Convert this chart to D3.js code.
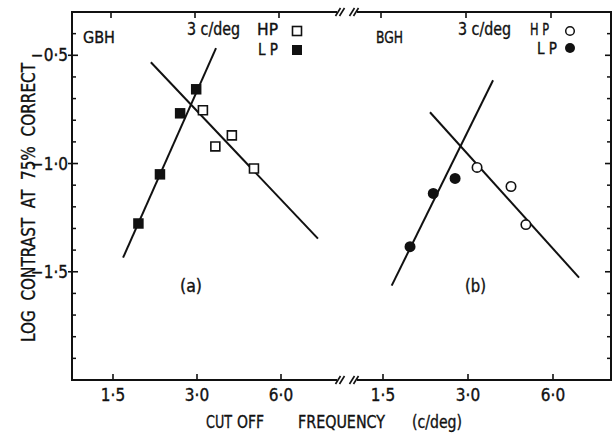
<!DOCTYPE html>
<html><head><meta charset="utf-8">
<script src="https://cdn.jsdelivr.net/npm/d3@7"></script>
<style>
html,body{margin:0;padding:0;background:#fff;}
svg{display:block;}
text{font-family:"DejaVu Sans Condensed","Liberation Sans Narrow","DejaVu Sans",sans-serif;fill:#111;stroke:#111;stroke-width:0.35;}
</style></head>
<body>
<script>
// ---- data ----
const xTicks = [1.5, 3, 6];
const xTickLabels = ["1·5", "3·0", "6·0"];
const yMajorTicks = [-0.5, -1.0, -1.5];
const yMajorLabels = ["−0·5", "−1·0", "−1·5"];
const yMinorTicks = [-1.9,-1.8,-1.7,-1.6,-1.4,-1.3,-1.2,-1.1,-0.9,-0.8,-0.7,-0.6,-0.4];

const gbhLPx = [1.85, 2.21, 2.61, 2.98];
const gbhLPy = [-1.277, -1.05, -0.768, -0.657];
const gbhHPx = [3.15, 3.49, 4.00, 4.80];
const gbhHPy = [-0.754, -0.921, -0.870, -1.023];
const bghLPx = [1.87, 2.26, 2.70];
const bghLPy = [-1.384, -1.138, -1.069];
const bghHPx = [3.23, 4.26, 4.81];
const bghHPy = [-1.018, -1.106, -1.282];

const gbhLPfitX = [1.63, 3.51], gbhLPfitY = [-1.435, -0.467];
const gbhHPfitX = [2.05, 8.14], gbhHPfitY = [-0.532, -1.347];
const bghLPfitX = [1.61, 3.68], bghLPfitY = [-1.564, -0.615];
const bghHPfitX = [2.20, 7.42], bghHPfitY = [-0.763, -1.527];

// ---- layout ----
const W = 613, H = 433;
const pLeft = 72, pRight = 611, pTop = 12, pBottom = 380;
const breakL = 337, breakR = 357;

const svg = d3.select("body").append("svg").attr("width", W).attr("height", H);

const y = d3.scaleLinear().domain([-2.0, -0.3]).range([pBottom, pTop]);
const xA = d3.scaleLog().domain([1.5, 6]).range([113, 281]);
const xB = d3.scaleLog().domain([1.5, 6]).range([383, 553]);

const ink = "#111";
// frame
const frame = svg.append("g").attr("stroke", ink).attr("stroke-width", 2).attr("fill", "none");
frame.append("line").attr("x1", pLeft).attr("x2", pLeft).attr("y1", pTop - 1).attr("y2", pBottom + 1);
frame.append("line").attr("x1", pRight).attr("x2", pRight).attr("y1", pTop - 1).attr("y2", pBottom + 1);
[pTop, pBottom].forEach(yy => {
  frame.append("line").attr("x1", pLeft).attr("x2", breakL).attr("y1", yy).attr("y2", yy);
  frame.append("line").attr("x1", breakR).attr("x2", pRight).attr("y1", yy).attr("y2", yy);
  [breakL + 1, breakL + 5, breakR - 5, breakR - 1].forEach(bx => {
    svg.append("line").attr("x1", bx - 2.5).attr("x2", bx + 2.5)
      .attr("y1", yy + 4).attr("y2", yy - 4)
      .attr("stroke", ink).attr("stroke-width", 1.6);
  });
});

// left y axis
const yAxisL = svg.append("g");
yMajorTicks.forEach((v, i) => {
  yAxisL.append("line").attr("x1", pLeft - 4).attr("x2", pLeft + 6)
    .attr("y1", y(v)).attr("y2", y(v)).attr("stroke", ink).attr("stroke-width", 1.6);
  yAxisL.append("text").attr("x", pLeft - 4).attr("y", y(v)).attr("dy", "0.36em")
    .attr("text-anchor", "end").attr("font-size", 17).text(yMajorLabels[i]);
});
yMinorTicks.forEach(v => {
  yAxisL.append("line").attr("x1", pLeft).attr("x2", pLeft + 4)
    .attr("y1", y(v)).attr("y2", y(v)).attr("stroke", ink).attr("stroke-width", 1.5);
});
// right y axis ticks
yMajorTicks.forEach(v => {
  svg.append("line").attr("x1", pRight - 6).attr("x2", pRight)
    .attr("y1", y(v)).attr("y2", y(v)).attr("stroke", ink).attr("stroke-width", 1.6);
});
yMinorTicks.forEach(v => {
  svg.append("line").attr("x1", pRight - 4).attr("x2", pRight)
    .attr("y1", y(v)).attr("y2", y(v)).attr("stroke", ink).attr("stroke-width", 1.5);
});

// x ticks (top & bottom) and labels
[xA, xB].forEach(sc => {
  xTicks.forEach((t, i) => {
    svg.append("line").attr("x1", sc(t)).attr("x2", sc(t)).attr("y1", pBottom).attr("y2", pBottom - 6)
      .attr("stroke", ink).attr("stroke-width", 1.6);
    svg.append("line").attr("x1", sc(t) - 2).attr("x2", sc(t) - 2).attr("y1", pTop).attr("y2", pTop + 6)
      .attr("stroke", ink).attr("stroke-width", 1.6);
    svg.append("text").attr("x", sc(t)).attr("y", pBottom + 21).attr("text-anchor", "middle")
      .attr("font-size", 17).text(xTickLabels[i]);
  });
});

function panel(sc, lpX, lpY, hpX, hpY, lpFX, lpFY, hpFX, hpFY, shape) {
  const g = svg.append("g");
  const line = d3.line().x(d => sc(d[0])).y(d => y(d[1]));
  g.append("path").datum(d3.zip(lpFX, lpFY)).attr("d", line)
    .attr("stroke", ink).attr("stroke-width", 2).attr("fill", "none");
  g.append("path").datum(d3.zip(hpFX, hpFY)).attr("d", line)
    .attr("stroke", ink).attr("stroke-width", 2).attr("fill", "none");
  const symType = shape === "square" ? d3.symbolSquare : d3.symbolCircle;
  g.selectAll(".lp").data(d3.zip(lpX, lpY)).join("path").attr("class", "lp")
    .attr("transform", d => `translate(${sc(d[0])},${y(d[1])})`)
    .attr("d", d3.symbol().type(symType).size(shape === "square" ? 110 : 95)())
    .attr("fill", ink);
  g.selectAll(".hp").data(d3.zip(hpX, hpY)).join("path").attr("class", "hp")
    .attr("transform", d => `translate(${sc(d[0])},${y(d[1])})`)
    .attr("d", d3.symbol().type(symType).size(shape === "square" ? 80 : 70)())
    .attr("fill", "#fff").attr("stroke", ink).attr("stroke-width", 1.6);
}
panel(xA, gbhLPx, gbhLPy, gbhHPx, gbhHPy, gbhLPfitX, gbhLPfitY, gbhHPfitX, gbhHPfitY, "square");
panel(xB, bghLPx, bghLPy, bghHPx, bghHPy, bghLPfitX, bghLPfitY, bghHPfitX, bghHPfitY, "circle");

function txt(x, yy, s, size, len) {
  svg.append("text").attr("x", x).attr("y", yy).attr("font-size", size)
    .attr("textLength", len).attr("lengthAdjust", "spacingAndGlyphs")
    .style("white-space", "pre").text(s);
}
txt(83, 43, "GBH", 16, 32);
txt(187, 35, "3 c/deg", 17, 53);
txt(257, 35, "HP", 16, 21);
txt(258, 55, "L P", 16, 20);
txt(376, 43, "BGH", 16, 27);
txt(458, 35, "3 c/deg", 17, 53);
txt(530, 35, "H P", 16, 19);
txt(537, 54, "L P", 16, 20);
txt(180, 292, "(a)", 17, 22);
txt(465, 292, "(b)", 17, 21);

// legend symbols
svg.append("rect").attr("x", 292.5).attr("y", 26.5).attr("width", 9).attr("height", 9)
  .attr("fill", "#fff").attr("stroke", ink).attr("stroke-width", 1.6);
svg.append("rect").attr("x", 292).attr("y", 45).attr("width", 10).attr("height", 10).attr("fill", ink);
svg.append("circle").attr("cx", 570).attr("cy", 31).attr("r", 4.3)
  .attr("fill", "#fff").attr("stroke", ink).attr("stroke-width", 1.5);
svg.append("circle").attr("cx", 570).attr("cy", 48).attr("r", 5).attr("fill", ink);

// axis titles
svg.append("text").attr("transform", `translate(35,342) rotate(-90)`)
  .attr("font-size", 20).attr("textLength", 279).attr("lengthAdjust", "spacingAndGlyphs")
  .style("white-space", "pre")
  .text("LOG  CONTRAST  AT  75%  CORRECT");
txt(206, 428, "CUT", 18, 26);
txt(237, 428, "OFF", 18, 27);
txt(298, 428, "FREQUENCY", 18, 87);
txt(412, 428, "(c/deg)", 18, 50);
</script>
</body></html>
